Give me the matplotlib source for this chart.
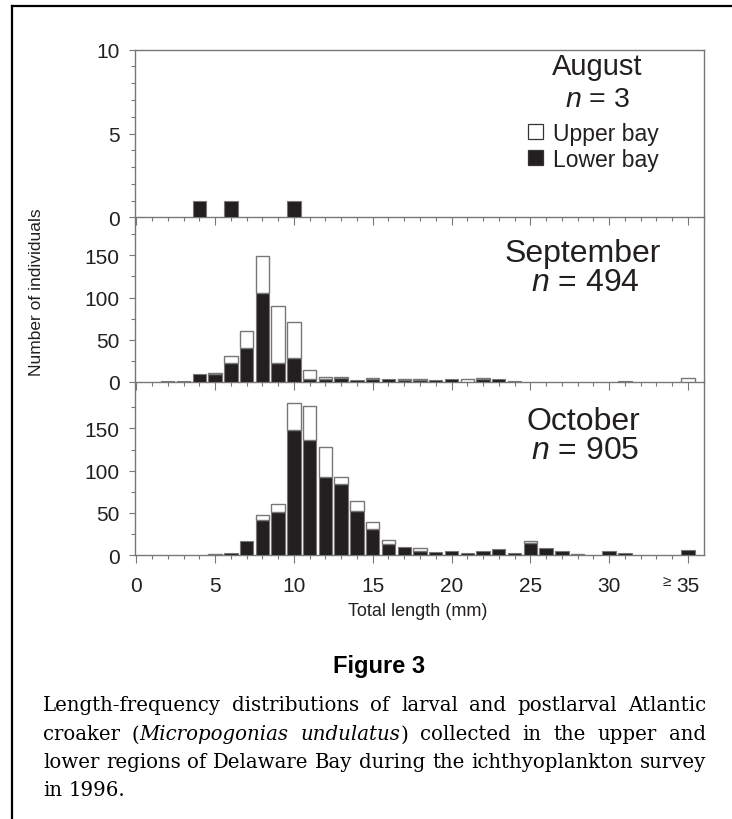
import matplotlib
matplotlib.use("Agg")
import matplotlib.pyplot as plt
from matplotlib.patches import Rectangle
from matplotlib.lines import Line2D

# ---------------- data ----------------
lengths = list(range(36))
aug_lower = [0, 0, 0, 0, 1, 0, 1, 0, 0, 0, 1, 0, 0, 0, 0, 0, 0, 0,
             0, 0, 0, 0, 0, 0, 0, 0, 0, 0, 0, 0, 0, 0, 0, 0, 0, 0]
aug_upper = [0] * 36
sep_lower = [0, 0, 1, 1, 10, 10, 23, 40, 105, 23, 29, 3, 4, 5, 2, 4, 4, 2,
             2, 2, 3, 0, 4, 3, 1, 0, 0, 0, 0, 0, 0, 1, 0, 0, 0, 0]
sep_upper = [0, 0, 0, 0, 0, 1, 8, 20, 44, 67, 42, 11, 2, 1, 0, 1, 0, 2,
             2, 0, 0, 3, 1, 0, 0, 0, 0, 0, 0, 0, 0, 0, 0, 0, 0, 5]
oct_lower = [0, 0, 0, 0, 0, 0, 2, 16, 42, 51, 148, 136, 92, 84, 52, 31, 13, 10,
             5, 4, 5, 2, 5, 7, 2, 14, 8, 5, 0, 0, 5, 2, 0, 0, 0, 6]
oct_upper = [0, 0, 0, 0, 0, 1, 0, 0, 5, 9, 32, 40, 36, 9, 12, 8, 5, 0,
             3, 0, 0, 0, 0, 0, 0, 2, 0, 0, 1, 0, 0, 0, 0, 0, 0, 0]
months = ["August", "September", "October"]
n_labels = ["3", "494", "905"]
x_tick_values = [0, 5, 10, 15, 20, 25, 30, 35]
x_tick_labels = ["0", "5", "10", "15", "20", "25", "30", "35"]
legend_labels = ["Upper bay", "Lower bay"]
caption_title = "Figure 3"
caption_lines = [
    "Length-frequency distributions of larval and postlarval Atlantic",
    "croaker (Micropogonias undulatus) collected in the upper and",
    "lower regions of Delaware Bay during the ichthyoplankton survey",
    "in 1996.",
]
italic_words = {"Micropogonias", "undulatus"}

# ---------------- layout ----------------
W, H = 732, 820
DPI = 100
INK = "#231f20"
GREY = "#777777"
SANS = ["Liberation Sans", "DejaVu Sans"]
plt.rcParams["mathtext.fontset"] = "custom"
plt.rcParams["mathtext.it"] = "Liberation Sans:italic"
plt.rcParams["mathtext.rm"] = "Liberation Sans"

fig = plt.figure(figsize=(W / DPI, H / DPI), dpi=DPI)
fig.patch.set_facecolor("white")


def fx(x):
    return x / W


def fy(y):
    return 1 - y / H


def add_axes_px(left, top, right, bottom):
    return fig.add_axes([fx(left), fy(bottom), (right - left) / W, (bottom - top) / H])


L, R = 134.7, 703.7
panels = [
    dict(top=50.7, bottom=218.3, ylim=10, major=[0, 5, 10], minor=list(range(1, 10)),
         lower=aug_lower, upper=aug_upper),
    dict(top=218.3, bottom=383.0, ylim=195, major=[0, 50, 100, 150], minor=[25, 75, 125, 175],
         lower=sep_lower, upper=sep_upper),
    dict(top=383.0, bottom=556.0, ylim=205, major=[0, 50, 100, 150], minor=[25, 75, 125, 175],
         lower=oct_lower, upper=oct_upper),
]

axes = []
for i, p in enumerate(panels):
    ax = add_axes_px(L, p["top"], R, p["bottom"])
    ax.set_facecolor("none")
    xs_l = [x for x, v in zip(lengths, p["lower"]) if v > 0]
    vs_l = [v for v in p["lower"] if v > 0]
    xs_u = [x for x, v in zip(lengths, p["upper"]) if v > 0]
    vs_u = [v for v in p["upper"] if v > 0]
    bs_u = [lo for lo, v in zip(p["lower"], p["upper"]) if v > 0]
    ax.bar(xs_l, vs_l, width=0.85, color=INK, edgecolor=GREY, linewidth=0.8, zorder=3)
    ax.bar(xs_u, vs_u, bottom=bs_u, width=0.85, color="white", edgecolor=GREY,
           linewidth=1.0, zorder=3)
    ax.set_xlim(-0.1, 36.0)
    ax.set_ylim(0, p["ylim"])
    ax.set_yticks(p["major"])
    ax.set_yticks(p["minor"], minor=True)
    ax.set_yticklabels([str(v) for v in p["major"]], fontsize=15, family=SANS, color=INK)
    ax.set_xticks(x_tick_values)
    ax.set_xticks(lengths, minor=True)
    if i == 2:
        ax.set_xticklabels(x_tick_labels, fontsize=15, family=SANS, color=INK)
    else:
        ax.set_xticklabels([])
    ax.tick_params(axis="y", which="major", direction="out", length=4, width=0.8,
                   color=GREY, pad=7)
    ax.tick_params(axis="y", which="minor", direction="out", length=3, width=0.8, color=GREY)
    ax.tick_params(axis="x", which="major", direction="out", length=6, width=0.8,
                   color=GREY, pad=9)
    ax.tick_params(axis="x", which="minor", direction="out", length=3, width=0.8, color=GREY)
    for side in ["left", "bottom", "right", "top"]:
        ax.spines[side].set_color(GREY)
        ax.spines[side].set_linewidth(1.0)
    if i > 0:
        ax.spines["top"].set_visible(False)
    axes.append(ax)

# "≥" marker in front of the last tick label
axes[2].annotate("≥", xy=(35, 0), xycoords="data", xytext=(-15, -19),
                 textcoords="offset points", ha="center", va="center",
                 fontsize=11, family=SANS, color=INK)

# month annotations
fig.text(fx(597), fy(75), months[0], ha="center", va="baseline", fontsize=21,
         family=SANS, color=INK)
fig.text(fx(597), fy(106.7), "$\\it{n}$ = " + n_labels[0], ha="center", va="baseline",
         fontsize=20.5, family=SANS, color=INK)
fig.text(fx(583), fy(254), months[1], ha="center", va="center", fontsize=23,
         family=SANS, color=INK)
fig.text(fx(585), fy(283), "$\\it{n}$ = " + n_labels[1], ha="center", va="center",
         fontsize=23, family=SANS, color=INK)
fig.text(fx(583), fy(422), months[2], ha="center", va="center", fontsize=23,
         family=SANS, color=INK)
fig.text(fx(585), fy(451), "$\\it{n}$ = " + n_labels[2], ha="center", va="center",
         fontsize=23, family=SANS, color=INK)

# legend
for lab, ytop, face in [(legend_labels[0], 125, "white"), (legend_labels[1], 151, INK)]:
    fig.patches.append(Rectangle((fx(528), fy(ytop + 15)), 15 / W, 15 / H,
                                 transform=fig.transFigure, facecolor=face,
                                 edgecolor="#333333", linewidth=0.9))
    fig.text(fx(553), fy(ytop + 16.5), lab, ha="left", va="baseline", fontsize=16.5,
             family=SANS, color=INK)

# axis labels
fig.text(fx(37), fy(292), "Number of individuals", rotation=90, ha="center", va="center",
         fontsize=12.5, family=SANS, color=INK)
fig.text(fx(418), fy(612), "Total length (mm)", ha="center", va="center",
         fontsize=13, family=SANS, color=INK)

# frame
fig.lines.append(Line2D([fx(11.7), fx(W + 5)], [fy(6.7), fy(6.7)], transform=fig.transFigure,
                        color="black", linewidth=1.6))
fig.lines.append(Line2D([fx(11.7), fx(11.7)], [fy(6.7), fy(H + 5)], transform=fig.transFigure,
                        color="black", linewidth=1.6))

# caption title
fig.text(fx(379), fy(667), caption_title, ha="center", va="center", fontsize=17,
         fontweight="bold", family=SANS, color="black")

# justified caption
SERIF = ["DejaVu Serif"]
cap_left, cap_right = 43, 706
line_y = [706, 735, 763, 791]
renderer = fig.canvas.get_renderer()


def split_word(w):
    segs = []
    core = w
    pre, post = "", ""
    while core and core[0] in "(":
        pre += core[0]
        core = core[1:]
    while core and core[-1] in ").,":
        post = core[-1] + post
        core = core[:-1]
    if core in italic_words:
        if pre:
            segs.append((pre, "normal"))
        segs.append((core, "italic"))
        if post:
            segs.append((post, "normal"))
    else:
        segs.append((w, "normal"))
    return segs


def measure(s, fs, style):
    t = fig.text(0, 0, s, fontsize=fs, family=SERIF, style=style)
    w = t.get_window_extent(renderer).width
    t.remove()
    return w


fs = 15.0
while fs > 9:
    sp = measure("a a", fs, "normal") - measure("aa", fs, "normal")
    widest = 0
    for ln in caption_lines:
        words = ln.split()
        tot = sum(measure(s, fs, st) for w in words for s, st in split_word(w))
        tot += 0.9 * sp * (len(words) - 1)
        widest = max(widest, tot)
    if widest <= cap_right - cap_left:
        break
    fs -= 0.25

sp = measure("a a", fs, "normal") - measure("aa", fs, "normal")
for k, ln in enumerate(caption_lines):
    words = ln.split()
    segs = [split_word(w) for w in words]
    widths = [[measure(s, fs, st) for s, st in sg] for sg in segs]
    wsum = sum(sum(w) for w in widths)
    last = k == len(caption_lines) - 1
    gap = sp if last else (cap_right - cap_left - wsum) / (len(words) - 1)
    x = cap_left
    for sg, wd in zip(segs, widths):
        for (s, st), w in zip(sg, wd):
            fig.text(fx(x), fy(line_y[k]), s, fontsize=fs, family=SERIF, style=st,
                     ha="left", va="center", color="black")
            x += w
        x += gap

fig.savefig("out.png", dpi=DPI, facecolor="white")
